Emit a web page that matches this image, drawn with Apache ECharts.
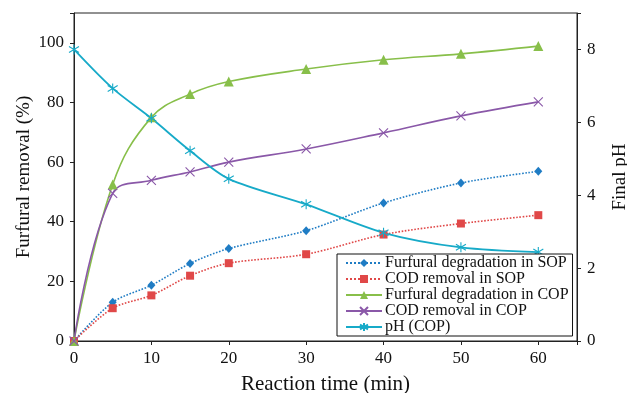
<!DOCTYPE html>
<html><head><meta charset="utf-8">
<script src="https://cdn.jsdelivr.net/npm/echarts@6/dist/echarts.min.js"></script>
<style>html,body{margin:0;padding:0;background:#fff}#c{width:627px;height:393px}</style>
</head><body><div id="c"></div>
<script>
const times = [0, 5, 10, 15, 20, 30, 40, 50, 60];
const furfuralSOP = [0, 13, 18.7, 26, 31, 37, 46.3, 53, 56.9];
const codSOP = [0, 11, 15.3, 21.9, 26.1, 29.1, 35.7, 39.4, 42.2];
const furfuralCOP = [0, 52.5, 75, 82.8, 87, 91.2, 94.3, 96.3, 98.9];
const codCOP = [0, 49.5, 53.9, 56.7, 60, 64.4, 69.8, 75.5, 80.2];
const phCOP = [8.0, 6.93, 6.11, 5.22, 4.45, 3.75, 2.97, 2.57, 2.44];
const seriesNames = ['Furfural degradation in SOP','COD removal in SOP','Furfural degradation in COP','COD removal in COP','pH (COP)'];

const pair = arr => times.map((t, i) => [t, arr[i]]);
const font = 'Liberation Serif';
const xSym = 'path://M0,0L10,10M10,0L0,10';
const starSym = 'path://M5,0L5,10M0,2L10,8M0,8L10,2';

const chart = echarts.init(document.getElementById('c'));
chart.setOption({
  animation: false,
  textStyle: {fontFamily: font, color: '#111'},
  grid: {left: 74, right: 50, top: 13, bottom: 52, show: true, borderColor: '#222', borderWidth: 1,
         outerBoundsMode: 'none', containLabel: false},
  legend: {
    orient: 'vertical', left: 337, top: 254,
    backgroundColor: '#fff', borderColor: '#111', borderWidth: 1,
    padding: [1, 4, 1, 8], itemGap: 0, itemWidth: 36, itemHeight: 10,
    textStyle: {fontFamily: font, fontSize: 16, lineHeight: 15.5, color: '#111', padding: [0, 0, 0, -2]},
    data: seriesNames
  },
  xAxis: {
    type: 'value', min: 0, max: 65, interval: 10,
    name: 'Reaction time (min)', nameLocation: 'middle', nameGap: 33, nameMoveOverlap: false,
    nameTextStyle: {fontFamily: font, fontSize: 21, color: '#111'},
    axisLine: {show: true, lineStyle: {color: '#222'}},
    axisTick: {show: true, length: 4, lineStyle: {color: '#222'}},
    axisLabel: {fontFamily: font, fontSize: 17, color: '#111', margin: 9,
      formatter: v => (v % 10 === 0 && v <= 60) ? v : ''},
    splitLine: {show: false}
  },
  yAxis: [{
    type: 'value', min: 0, max: 110, interval: 20,
    name: 'Furfural removal (%)', nameLocation: 'middle', nameGap: 40, nameRotate: 90, nameMoveOverlap: false,
    nameTextStyle: {fontFamily: font, fontSize: 19, color: '#111'},
    axisLine: {show: true, lineStyle: {color: '#222'}},
    axisTick: {show: true, length: 4, lineStyle: {color: '#222'}},
    axisLabel: {fontFamily: font, fontSize: 17, color: '#111', margin: 10,
      formatter: v => v <= 100 ? v : ''},
    splitLine: {show: false}
  }, {
    type: 'value', min: 0, max: 9, interval: 2, position: 'right',
    name: 'Final pH', nameLocation: 'middle', nameGap: 34, nameRotate: 90, nameMoveOverlap: false,
    nameTextStyle: {fontFamily: font, fontSize: 19, color: '#111'},
    axisLine: {show: true, lineStyle: {color: '#222'}},
    axisTick: {show: true, length: 4, lineStyle: {color: '#222'}},
    axisLabel: {fontFamily: font, fontSize: 17, color: '#111', margin: 10,
      formatter: v => (v % 2 === 0) ? v : ''},
    splitLine: {show: false}
  }],
  series: [
    {name: seriesNames[0], type: 'line', data: pair(furfuralSOP), smooth: 0.3,
     symbol: 'diamond', symbolSize: [8, 9], color: '#1f7cc4',
     lineStyle: {type: 'dotted', width: 1.6}, z: 3},
    {name: seriesNames[1], type: 'line', data: pair(codSOP), smooth: 0.3,
     symbol: 'rect', symbolSize: 8, color: '#e04848',
     lineStyle: {type: 'dotted', width: 1.6}, z: 3},
    {name: seriesNames[2], type: 'line', data: pair(furfuralCOP), smooth: 0.4,
     symbol: 'triangle', symbolSize: 10, color: '#88bf4a',
     lineStyle: {width: 1.6}, z: 3},
    {name: seriesNames[3], type: 'line', data: pair(codCOP), smooth: 0.4,
     symbol: xSym, symbolSize: 9, color: '#8a58a8',
     itemStyle: {borderColor: '#8a58a8', borderWidth: 1.1},
     lineStyle: {width: 1.6}, z: 3},
    {name: seriesNames[4], type: 'line', yAxisIndex: 1, data: pair(phCOP), smooth: 0.3,
     symbol: starSym, symbolSize: 10, color: '#17aac8',
     itemStyle: {borderColor: '#17aac8', borderWidth: 1.1},
     lineStyle: {width: 1.8}, z: 3}
  ]
});
</script></body></html>
